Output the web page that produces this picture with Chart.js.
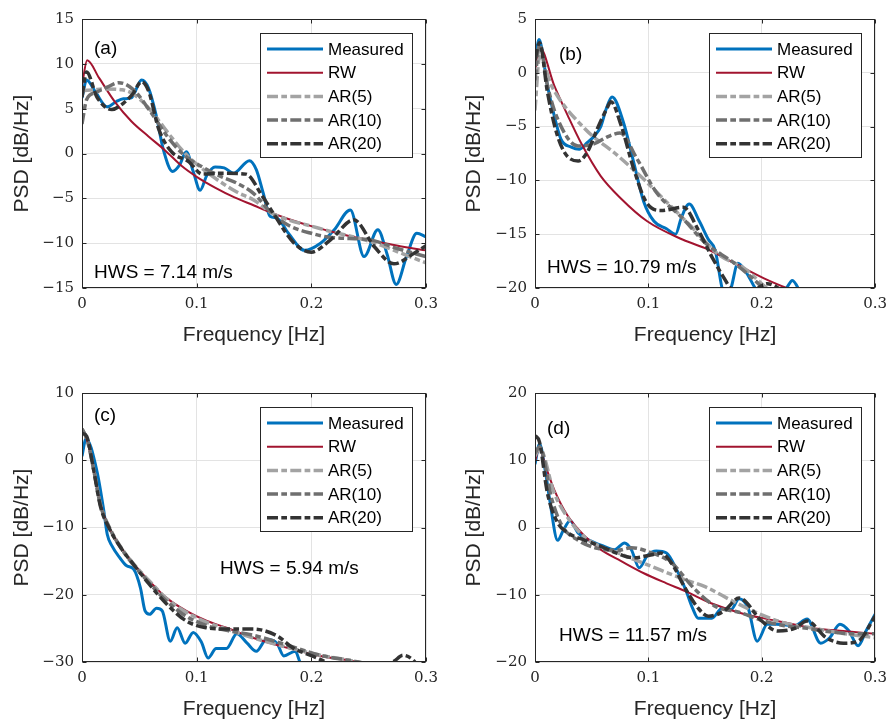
<!DOCTYPE html>
<html><head><meta charset="utf-8">
<script src="https://cdn.jsdelivr.net/npm/chart.js@4.4.0/dist/chart.umd.min.js"></script>
<style>
html,body{margin:0;padding:0;background:#fff;}
#wrap{position:relative;width:894px;height:722px;background:#fff;}
canvas{position:absolute;}
</style></head><body>
<div id="wrap">
<canvas id="ca" width="447" height="361" style="left:0;top:0"></canvas>
<canvas id="cb" width="447" height="361" style="left:447px;top:0"></canvas>
<canvas id="cc" width="447" height="361" style="left:0;top:361px"></canvas>
<canvas id="cd" width="447" height="361" style="left:447px;top:361px"></canvas>
</div>
<script>
// ---------- data ----------
const seriesNames = ['Measured', 'RW', 'AR(5)', 'AR(10)', 'AR(20)'];
const xTicks = [0, 0.1, 0.2, 0.3];
const xTickLabels = ['0', '0.1', '0.2', '0.3'];

// panel (a)
const aYTicks = [-15, -10, -5, 0, 5, 10, 15];
const aMeasF = [0,0.004,0.012,0.022,0.03,0.036,0.043,0.052,0.058,0.065,0.071,0.079,0.085,0.091,0.097,0.103,0.109,0.116,0.124,0.132,0.146,0.152,0.158,0.164,0.17,0.18,0.194,0.208,0.22,0.234,0.246,0.258,0.266,0.274,0.283,0.292,0.3];
const aMeasV = [6.2,8.2,6.8,5.2,5.8,6.1,6.2,8.2,7.3,4.1,0.4,-2.0,-1.3,0.2,-2.0,-4.1,-2.4,-1.5,-1.6,-2.2,-0.8,-1.8,-4.4,-7.0,-7.2,-8.9,-10.8,-10.0,-8.5,-6.3,-11.5,-8.5,-11.2,-14.6,-11.5,-8.9,-9.3];
const aRwF = [0,0.0045,0.015,0.029,0.043,0.058,0.072,0.087,0.1,0.116,0.133,0.15,0.165,0.18,0.2,0.219,0.24,0.26,0.28,0.3];
const aRwV = [7.6,10.4,8.4,5.7,3.6,1.9,0.4,-1.4,-2.6,-3.8,-4.9,-5.8,-6.6,-7.3,-8.1,-8.75,-9.4,-9.9,-10.4,-10.8];
const aAr5F = [0,0.01,0.02,0.035,0.045,0.06,0.075,0.09,0.105,0.12,0.135,0.15,0.165,0.18,0.2,0.22,0.24,0.26,0.28,0.3];
const aAr5V = [7.0,7.1,7.2,7.1,6.6,4.8,2.3,0.0,-1.7,-3.1,-4.3,-5.2,-6.6,-7.4,-8.1,-8.8,-9.4,-10.2,-11.2,-12.2];
const aAr10F = [0,0.004,0.012,0.022,0.032,0.045,0.06,0.075,0.09,0.105,0.12,0.135,0.15,0.165,0.18,0.2,0.22,0.25,0.275,0.3];
const aAr10V = [3.3,6.0,6.8,7.4,7.9,7.1,4.6,1.8,-0.3,-1.5,-2.5,-3.3,-4.5,-6.6,-8.0,-8.9,-9.4,-9.6,-10.6,-11.5];
const aAr20F = [0,0.004,0.013,0.026,0.036,0.044,0.052,0.058,0.067,0.078,0.093,0.105,0.12,0.143,0.157,0.167,0.185,0.2,0.217,0.237,0.255,0.272,0.29,0.3];
const aAr20V = [6.3,9.1,6.3,4.9,5.6,6.6,8.0,7.0,2.7,0.2,-0.9,-2.3,-2.2,-2.3,-4.7,-6.7,-10.0,-11.0,-9.6,-7.4,-10.4,-12.3,-11.1,-10.3];

// panel (b)
const bYTicks = [-20, -15, -10, -5, 0, 5];
const bMeasF = [0,0.0035,0.011,0.017,0.023,0.032,0.039,0.046,0.053,0.058,0.063,0.068,0.078,0.087,0.096,0.105,0.116,0.124,0.129,0.136,0.145,0.153,0.159,0.165,0.169,0.173,0.179,0.186,0.192,0.197,0.21,0.222,0.227,0.233,0.24];
const bMeasV = [0.7,3.1,-1.2,-4.0,-6.2,-6.9,-7.1,-6.5,-5.8,-5.0,-3.3,-2.25,-4.6,-8.3,-12.0,-13.8,-14.5,-15.0,-13.5,-12.2,-13.8,-15.5,-16.5,-20,-21,-20,-17.7,-18.5,-19.6,-20.5,-21.5,-20,-19.3,-20.2,-22];
const bRwF = [0,0.004,0.017,0.029,0.041,0.058,0.076,0.099,0.128,0.15,0.176,0.202,0.222,0.24];
const bRwV = [0.1,2.4,-1.2,-4.0,-6.6,-9.6,-11.7,-13.8,-15.4,-16.3,-17.7,-19.1,-20,-20.7];
const bAr5F = [0,0.004,0.015,0.044,0.073,0.096,0.116,0.137,0.162,0.185,0.2,0.215];
const bAr5V = [-3.5,1.5,-1.3,-5.2,-7.7,-9.9,-12.0,-14.2,-16.9,-18.2,-19.6,-21];
const bAr10F = [0,0.004,0.011,0.02,0.038,0.052,0.065,0.075,0.09,0.107,0.131,0.15,0.176,0.194,0.21];
const bAr10V = [-0.7,2.6,-1.2,-4.3,-6.8,-6.6,-5.9,-5.6,-8.0,-11.1,-13.6,-15.8,-17.7,-19.3,-21];
const bAr20F = [0,0.004,0.011,0.018,0.026,0.038,0.046,0.055,0.063,0.067,0.076,0.087,0.098,0.111,0.131,0.144,0.156,0.168,0.173,0.185,0.197,0.205,0.213,0.22];
const bAr20V = [1.2,2.8,-1.8,-5.2,-7.4,-8.2,-7.4,-5.2,-3.4,-2.7,-4.9,-8.9,-12.0,-12.8,-12.5,-14.6,-17.1,-19.3,-20.1,-21,-20,-19.6,-19.9,-20.5];

// panel (c)
const cYTicks = [-30, -20, -10, 0, 10];
const cMeasF = [0,0.0035,0.013,0.019,0.022,0.026,0.033,0.039,0.045,0.051,0.055,0.059,0.065,0.07,0.077,0.083,0.09,0.097,0.104,0.11,0.117,0.126,0.135,0.144,0.152,0.161,0.17,0.176,0.186,0.19,0.195];
const cMeasV = [0.6,3.2,-1.6,-7.5,-11,-12.7,-14.5,-15.7,-16.2,-19,-22.4,-22.9,-22,-22.4,-26.9,-24.9,-27.2,-25.6,-27,-29.4,-28,-28,-25.8,-27.2,-28.4,-26.6,-27.2,-29.1,-28.4,-30,-32];
const cRwF = [0,0.005,0.01,0.016,0.024,0.035,0.045,0.059,0.074,0.091,0.109,0.126,0.149,0.179,0.208,0.241,0.26];
const cRwV = [4.6,2.6,-1.3,-6.5,-10.1,-13.2,-15.4,-18,-20.5,-22.4,-23.9,-24.9,-26.4,-27.9,-29.1,-30,-30.8];
const cAr5F = [0,0.005,0.01,0.016,0.024,0.035,0.045,0.059,0.074,0.091,0.109,0.126,0.149,0.179,0.208,0.241,0.26];
const cAr5V = [4.7,2.7,-1.2,-6.5,-10.0,-13.2,-15.4,-18.0,-20.6,-22.6,-24.1,-25.1,-26.4,-27.8,-29.0,-30.0,-30.8];
const cAr10F = [0,0.005,0.01,0.016,0.024,0.035,0.045,0.059,0.074,0.091,0.109,0.126,0.149,0.179,0.208,0.241,0.26];
const cAr10V = [4.7,2.8,-1.2,-6.6,-10.1,-13.3,-15.6,-18.3,-21.0,-23.2,-24.6,-25.3,-26.0,-27.5,-29.0,-30.0,-30.8];
const cAr20F = [0,0.004,0.01,0.016,0.024,0.035,0.045,0.059,0.074,0.091,0.108,0.126,0.149,0.17,0.184,0.205,0.215,0.225,0.245,0.264,0.272,0.28,0.288,0.295];
const cAr20V = [4.0,3.6,-1.3,-6.8,-10.2,-13.3,-15.5,-18.5,-21.4,-23.9,-24.9,-25.1,-25.1,-26.1,-27.9,-29.4,-30.2,-31,-31.5,-30.6,-29.9,-29.0,-29.6,-31];

// panel (d)
const dYTicks = [-20, -10, 0, 10, 20];
const dMeasF = [0,0.004,0.009,0.013,0.02,0.025,0.031,0.038,0.048,0.061,0.07,0.079,0.085,0.092,0.099,0.107,0.116,0.125,0.133,0.139,0.144,0.156,0.165,0.173,0.18,0.188,0.196,0.205,0.213,0.229,0.24,0.252,0.26,0.269,0.277,0.285,0.292,0.3];
const dMeasV = [9.4,12.4,8.5,4.1,-1.9,-0.4,1.0,-0.8,-1.9,-2.8,-3.3,-2.3,-3.3,-6.0,-4.2,-3.5,-3.8,-6.3,-9.3,-12,-13.5,-13.5,-12,-12.2,-10.6,-12,-16.9,-14.4,-14.4,-14.6,-13.6,-17.2,-16.4,-14.4,-15.4,-17.6,-15.4,-12.9];
const dRwF = [0,0.004,0.009,0.017,0.029,0.044,0.058,0.076,0.096,0.116,0.133,0.156,0.185,0.214,0.243,0.272,0.3];
const dRwV = [9.9,11.8,9.3,5.6,1.7,-1.3,-3.3,-5.0,-6.8,-8.3,-9.5,-11.3,-12.9,-13.9,-14.9,-15.4,-15.8];
const dAr5F = [0,0.004,0.017,0.03,0.045,0.06,0.07,0.1,0.133,0.15,0.175,0.2,0.22,0.243,0.27,0.3];
const dAr5V = [10.6,11.8,5.1,1.2,-1.6,-3.0,-3.6,-5.6,-7.8,-8.8,-11.0,-13.0,-14.2,-14.9,-15.7,-16.4];
const dAr10F = [0,0.004,0.015,0.024,0.038,0.055,0.073,0.085,0.1,0.12,0.14,0.16,0.18,0.2,0.22,0.24,0.26,0.28,0.3];
const dAr10V = [11.0,12.0,4.1,0.2,-1.9,-3.1,-3.4,-3.0,-3.6,-5.2,-9.0,-11.8,-12.6,-13.8,-14.6,-15.0,-15.5,-15.8,-15.8];
const dAr20F = [0,0.004,0.011,0.02,0.029,0.044,0.058,0.072,0.087,0.102,0.111,0.122,0.131,0.144,0.153,0.167,0.18,0.2,0.214,0.229,0.24,0.257,0.272,0.285,0.3];
const dAr20V = [13.7,12.7,5.1,0.7,-0.8,-1.9,-2.8,-3.8,-4.5,-4.1,-3.8,-5.7,-8.6,-12,-13.2,-12.4,-10.5,-13.9,-15.4,-15.0,-13.9,-16.4,-17.2,-16.9,-13.2];

// ---------- styles ----------
const DASHDOT = [11, 3.3, 5.7, 3.3];
const seriesStyles = [
  {color: '#0072BD', width: 3,   dash: [],      order: 5},
  {color: '#A2142F', width: 2,   dash: [],      order: 4},
  {color: '#a3a3a3', width: 3.5, dash: DASHDOT, order: 3},
  {color: '#6f6f6f', width: 3.5, dash: DASHDOT, order: 2},
  {color: '#333333', width: 3.5, dash: DASHDOT, order: 1}
];
const AXIS = '#262626';
const SANS = "'Liberation Sans', Arial, sans-serif";
const SERIF = "'DejaVu Serif', serif";

const panels = [
  {id: 'ca', area: {l: 82, r: 426, t: 19, b: 288}, yMin: -15, yMax: 15, yTicks: aYTicks,
   series: [[aMeasF, aMeasV], [aRwF, aRwV], [aAr5F, aAr5V], [aAr10F, aAr10V], [aAr20F, aAr20V]],
   tag: '(a)', tagPos: [94, 49], hws: 'HWS = 7.14 m/s', hwsPos: [94, 273], yTitlePad: 11, xTitlePad: 14},
  {id: 'cb', area: {l: 88, r: 432, t: 19, b: 288}, yMin: -20, yMax: 5, yTicks: bYTicks,
   series: [[bMeasF, bMeasV], [bRwF, bRwV], [bAr5F, bAr5V], [bAr10F, bAr10V], [bAr20F, bAr20V]],
   tag: '(b)', tagPos: [112, 55], hws: 'HWS = 10.79 m/s', hwsPos: [100, 268], yTitlePad: 16, xTitlePad: 14},
  {id: 'cc', area: {l: 82, r: 426, t: 32, b: 301}, yMin: -30, yMax: 10, yTicks: cYTicks,
   series: [[cMeasF, cMeasV], [cRwF, cRwV], [cAr5F, cAr5V], [cAr10F, cAr10V], [cAr20F, cAr20V]],
   tag: '(c)', tagPos: [94, 55], hws: 'HWS = 5.94 m/s', hwsPos: [220, 208], yTitlePad: 11, xTitlePad: 1},
  {id: 'cd', area: {l: 88, r: 432, t: 32, b: 301}, yMin: -20, yMax: 20, yTicks: dYTicks,
   series: [[dMeasF, dMeasV], [dRwF, dRwV], [dAr5F, dAr5V], [dAr10F, dAr10V], [dAr20F, dAr20V]],
   tag: '(d)', tagPos: [100, 68], hws: 'HWS = 11.57 m/s', hwsPos: [112, 275], yTitlePad: 16, xTitlePad: 1}
];

const fmt = v => {
  const i = xTicks.indexOf(v);
  if (i >= 0) return xTickLabels[i];
  return String(v).replace('-', '\u2212');
};

const decorPlugin = {
  id: 'decor',
  afterDraw(chart) {
    const p = chart.options.plugins.decor;
    const ctx = chart.ctx;
    const ca = chart.chartArea;
    const xs = chart.scales.x, ys = chart.scales.y;
    ctx.save();
    // frame
    ctx.strokeStyle = AXIS; ctx.lineWidth = 1; ctx.setLineDash([]);
    const L = Math.round(ca.left) + 0.5, R = Math.round(ca.right) - 0.5;
    const T = Math.round(ca.top) + 0.5, B = Math.round(ca.bottom) - 0.5;
    ctx.strokeRect(L, T, R - L, B - T);
    // inward ticks
    const tl = 4;
    ctx.beginPath();
    xTicks.forEach(v => {
      const x = Math.round(xs.getPixelForValue(v)) + 0.5;
      ctx.moveTo(x, B); ctx.lineTo(x, B - tl);
      ctx.moveTo(x, T); ctx.lineTo(x, T + tl);
    });
    p.yTicks.forEach(v => {
      const y = Math.round(ys.getPixelForValue(v)) + 0.5;
      ctx.moveTo(L, y); ctx.lineTo(L + tl, y);
      ctx.moveTo(R, y); ctx.lineTo(R - tl, y);
    });
    ctx.stroke();
    // tags
    ctx.fillStyle = '#000';
    ctx.font = '19px ' + SANS;
    ctx.textBaseline = 'middle'; ctx.textAlign = 'left';
    ctx.fillText(p.tag, p.tagPos[0], p.tagPos[1]);
    ctx.fillText(p.hws, p.hwsPos[0], p.hwsPos[1]);
    // legend
    const lw = 152, lh = 124;
    const lx = Math.round(ca.right) - 14 - lw, ly = Math.round(ca.top) + 14;
    ctx.fillStyle = '#fff';
    ctx.fillRect(lx, ly, lw, lh);
    ctx.strokeStyle = AXIS; ctx.lineWidth = 1;
    ctx.strokeRect(lx + 0.5, ly + 0.5, lw, lh);
    const rows = [16, 39.7, 63.4, 87.1, 110.8];
    chart.data.datasets.forEach((ds, i) => {
      const y = ly + rows[i];
      ctx.beginPath();
      ctx.strokeStyle = ds.borderColor;
      ctx.lineWidth = ds.borderWidth;
      ctx.setLineDash(ds.borderDash || []);
      ctx.lineCap = 'butt';
      ctx.moveTo(lx + 7, y); ctx.lineTo(lx + 63, y);
      ctx.stroke();
      ctx.setLineDash([]);
      ctx.fillStyle = '#000';
      ctx.font = '17px ' + SANS;
      ctx.fillText(ds.label, lx + 68, y + 1);
    });
    ctx.restore();
  }
};

panels.forEach(pn => {
  const datasets = pn.series.map((s, i) => ({
    label: seriesNames[i],
    data: s[0].map((f, k) => ({x: f, y: s[1][k]})),
    borderColor: seriesStyles[i].color,
    borderWidth: seriesStyles[i].width,
    borderDash: seriesStyles[i].dash,
    borderCapStyle: 'butt',
    borderJoinStyle: 'round',
    order: seriesStyles[i].order,
    pointRadius: 0,
    fill: false,
    cubicInterpolationMode: 'monotone'
  }));
  new Chart(document.getElementById(pn.id), {
    type: 'line',
    data: {datasets},
    plugins: [decorPlugin],
    options: {
      responsive: false,
      animation: false,
      events: [],
      devicePixelRatio: 1,
      layout: {padding: {left: 0, top: pn.area.t, right: 447 - pn.area.r, bottom: 0}},
      plugins: {
        legend: {display: false},
        tooltip: {enabled: false},
        decor: {yTicks: pn.yTicks, tag: pn.tag, tagPos: pn.tagPos, hws: pn.hws, hwsPos: pn.hwsPos}
      },
      scales: {
        x: {
          type: 'linear', min: 0, max: 0.3,
          afterBuildTicks: sc => { sc.ticks = xTicks.map(v => ({value: v})); },
          afterFit: sc => { sc.height = 361 - pn.area.b; },
          ticks: {callback: v => fmt(v), font: {family: SERIF, size: 15}, color: AXIS, padding: 7, maxRotation: 0, autoSkip: false},
          grid: {color: '#e3e3e3', lineWidth: 1, drawTicks: false},
          border: {display: false},
          title: {display: true, text: 'Frequency [Hz]', color: AXIS, font: {family: SANS, size: 21}, padding: {top: 0, bottom: pn.xTitlePad - 1}}
        },
        y: {
          type: 'linear', min: pn.yMin, max: pn.yMax,
          afterBuildTicks: sc => { sc.ticks = pn.yTicks.map(v => ({value: v})); },
          afterFit: sc => { sc.width = pn.area.l; },
          ticks: {callback: v => fmt(v), font: {family: SERIF, size: 15}, color: AXIS, padding: 8, autoSkip: false},
          grid: {color: '#e3e3e3', lineWidth: 1, drawTicks: false},
          border: {display: false},
          title: {display: true, text: 'PSD [dB/Hz]', color: AXIS, font: {family: SANS, size: 21}, padding: {top: pn.yTitlePad - 1, bottom: 0}}
        }
      }
    }
  });
});
</script>
</body></html>
